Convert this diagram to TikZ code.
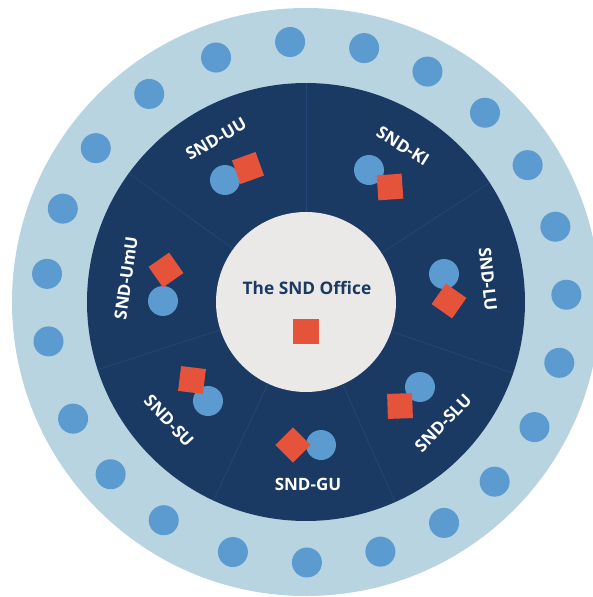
\documentclass[tikz,border=0pt]{standalone}
\usepackage{fontspec}
\setmainfont{Open Sans}
\usetikzlibrary{calc}
\usetikzlibrary{positioning}
\definecolor{ringblue}{HTML}{B9D4E1}
\definecolor{dotblue}{HTML}{5B9BD0}
\definecolor{navy}{HTML}{1B3A63}
\definecolor{seamblue}{HTML}{264876}
\definecolor{officegrey}{HTML}{EAE9E7}
\definecolor{squarered}{HTML}{E5533A}
\tikzstyle{ringnode} = [circle, fill=ringblue, inner sep=0pt, outer sep=0pt, minimum size=588pt]
\tikzstyle{hubnode} = [circle, fill=navy, inner sep=0pt, outer sep=0pt, minimum size=438pt]
\tikzstyle{officenode} = [circle, fill=officegrey, inner sep=0pt, outer sep=0pt, minimum size=180pt]
\tikzstyle{dotnode} = [circle, fill=dotblue, inner sep=0pt, minimum size=30pt]
\tikzstyle{squarenode} = [rectangle, fill=squarered, inner sep=0pt, minimum size=25pt]
\tikzstyle{unitlabel} = [text=white, inner sep=0pt, font=\fontsize{17}{18}\selectfont\bfseries]
\tikzstyle{seam} = [draw=seamblue, line width=0.7pt]

\begin{document}
\begin{tikzpicture}[x=1pt, y=1pt]
\useasboundingbox (-306,-295) rectangle (286,302);
\node[ringnode] (ring) at (0,0) {};
\foreach \a [count=\k] in {-89.8,-73.4,-58,-43.6,-28.7,-13.5,1.6,16.8,31.7,46.6,62.2,77.1,93.5,110.2,127,143.8,159,173.8,188.7,206.6,221.4,236.9,253.7}
    \node[dotnode] (ring_dot\k) at (\a:260.5) {};
\node[hubnode] (hub) at (0,0) {};
\node[officenode] (office) at (0,0) {};
\foreach \a in {90,144,198,245,294,341,33}
    \draw[seam] (office.\a) -- (hub.\a);

\node[text=navy, inner sep=0pt, font=\fontsize{17.3}{18}\selectfont\bfseries] (office_title) at ($(office)+(1,14)$) {The SND Office};
\node[squarenode] (office_square) at ($(office)+(0,-29.5)$) {};

\node[dotnode] (uu_dot) at ($(hub)+(-81,122)$) {};
\node[squarenode, rotate=20] (uu_square) at ($(uu_dot)+(23,12)$) {};
\node[unitlabel, rotate=30] (uu_label) at ($(hub)+(-90,163)$) {SND-UU};

\node[dotnode] (ki_dot) at ($(hub)+(63,132)$) {};
\node[squarenode, rotate=4] (ki_square) at ($(ki_dot)+(21,-17)$) {};
\node[unitlabel, rotate=-32] (ki_label) at ($(hub)+(97,156)$) {SND-KI};

\node[dotnode] (lu_dot) at ($(hub)+(138,28)$) {};
\node[squarenode, rotate=-35] (lu_square) at ($(lu_dot)+(5,-27)$) {};
\node[unitlabel, rotate=-84] (lu_label) at ($(hub)+(182,23)$) {SND-LU};

\node[dotnode] (slu_dot) at ($(hub)+(114,-85)$) {};
\node[squarenode, rotate=2] (slu_square) at ($(slu_dot)+(-20,-19)$) {};
\node[unitlabel, rotate=46] (slu_label) at ($(hub)+(137,-121)$) {SND-SLU};

\node[dotnode] (gu_dot) at ($(hub)+(15,-143)$) {};
\node[squarenode, rotate=45] (gu_square) at ($(gu_dot)+(-28,0)$) {};
\node[unitlabel] (gu_label) at ($(hub)+(2,-182)$) {SND-GU};

\node[dotnode] (su_dot) at ($(hub)+(-98,-99)$) {};
\node[squarenode, rotate=-7] (su_square) at ($(su_dot)+(-16,21)$) {};
\node[unitlabel, rotate=-47] (su_label) at ($(hub)+(-137,-119)$) {SND-SU};

\node[dotnode] (umu_dot) at ($(hub)+(-143,1)$) {};
\node[squarenode, rotate=35] (umu_square) at ($(umu_dot)+(3,31)$) {};
\node[unitlabel, rotate=82] (umu_label) at ($(hub)+(-180,24)$) {SND-UmU};
\end{tikzpicture}
\end{document}
